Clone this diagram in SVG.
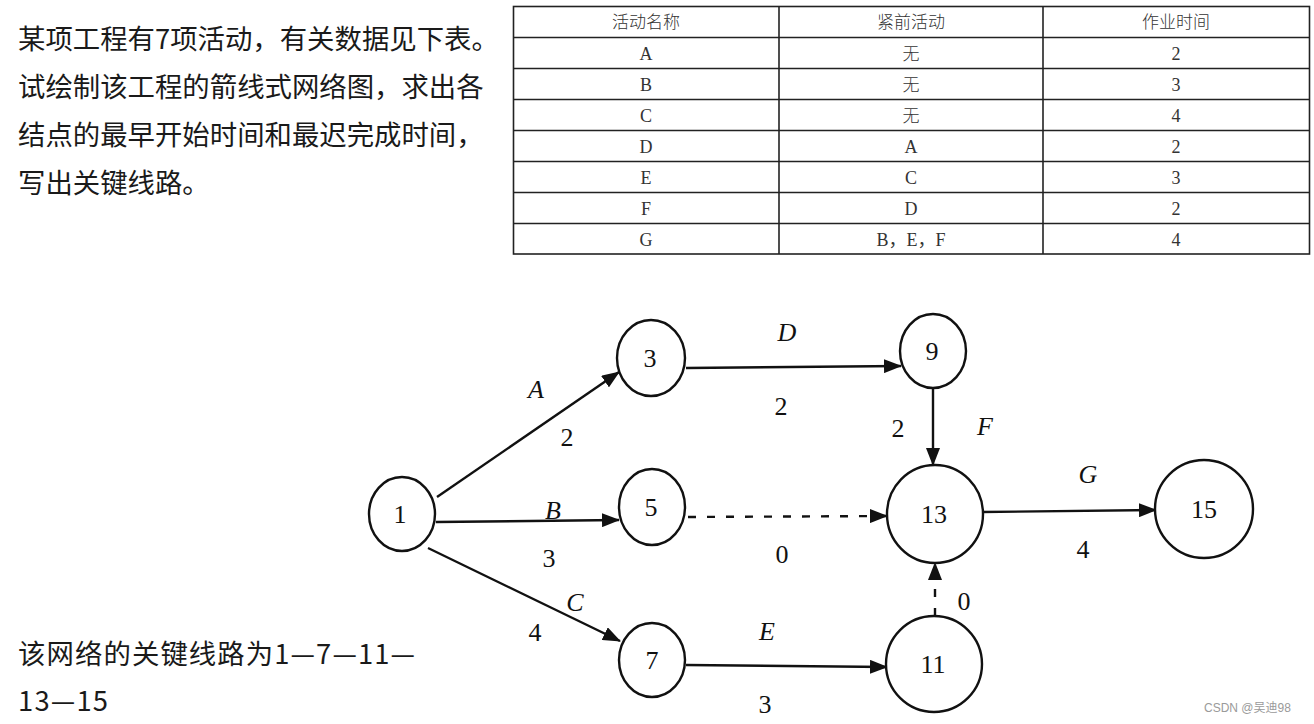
<svg xmlns="http://www.w3.org/2000/svg" width="1314" height="724" viewBox="0 0 1314 724">
<style>
.q{font-family:"Noto Sans CJK SC","Noto Sans",sans-serif;font-size:27.4px;fill:#1a1a1a}
.t{font-family:"Liberation Serif","Noto Sans CJK SC",serif;font-size:18px;fill:#333;text-anchor:middle}
.tc{font-family:"Noto Sans CJK SC",sans-serif;font-size:17px;fill:#333;text-anchor:middle;font-weight:300}
.grid{stroke:#222;stroke-width:1.6;fill:none}
.node{fill:#fff;stroke:#111;stroke-width:2.4}
.nl{font-family:"Liberation Serif",serif;font-size:26px;fill:#111;text-anchor:middle}
.el{font-family:"Liberation Serif",serif;font-size:26px;fill:#111;text-anchor:middle;font-style:italic}
.en{font-family:"Liberation Serif",serif;font-size:26px;fill:#111;text-anchor:middle}
.edge{stroke:#111;stroke-width:2.4;fill:none}
.dash{stroke:#111;stroke-width:2.4;fill:none;stroke-dasharray:8 11}
.wm{font-family:"Liberation Sans","Noto Sans CJK SC",sans-serif;font-size:12px;fill:#9a9a9a}
</style>
<defs>
<marker id="ah" markerUnits="userSpaceOnUse" markerWidth="18" markerHeight="14" refX="17" refY="7" orient="auto">
<path d="M0,0 L18,7 L0,14 z" fill="#111"/>
</marker>
</defs>
<rect width="1314" height="724" fill="#fff"/>

<g id="question">
<text class="q" x="18" y="49">某项工程有7项活动，有关数据见下表。</text>
<text class="q" x="18" y="97">试绘制该工程的箭线式网络图，求出各</text>
<text class="q" x="18" y="145">结点的最早开始时间和最迟完成时间，</text>
<text class="q" x="18" y="193">写出关键线路。</text>
</g>

<g id="table">
<rect x="513.5" y="6.5" width="796" height="247.5" class="grid" stroke-width="2.2"/>
<line class="grid" x1="779" y1="6.5" x2="779" y2="254"/>
<line class="grid" x1="1043" y1="6.5" x2="1043" y2="254"/>
<line class="grid" x1="513.5" y1="37.5" x2="1309.5" y2="37.5"/>
<line class="grid" x1="513.5" y1="68.5" x2="1309.5" y2="68.5"/>
<line class="grid" x1="513.5" y1="99.5" x2="1309.5" y2="99.5"/>
<line class="grid" x1="513.5" y1="130.5" x2="1309.5" y2="130.5"/>
<line class="grid" x1="513.5" y1="161.5" x2="1309.5" y2="161.5"/>
<line class="grid" x1="513.5" y1="192.5" x2="1309.5" y2="192.5"/>
<line class="grid" x1="513.5" y1="223.5" x2="1309.5" y2="223.5"/>
<text class="tc" x="646" y="28">活动名称</text>
<text class="tc" x="911" y="28">紧前活动</text>
<text class="tc" x="1176" y="28">作业时间</text>
<text class="t" x="646" y="60">A</text><text class="tc" x="911" y="60">无</text><text class="t" x="1176" y="60">2</text>
<text class="t" x="646" y="91">B</text><text class="tc" x="911" y="91">无</text><text class="t" x="1176" y="91">3</text>
<text class="t" x="646" y="122">C</text><text class="tc" x="911" y="122">无</text><text class="t" x="1176" y="122">4</text>
<text class="t" x="646" y="153">D</text><text class="t" x="911" y="153">A</text><text class="t" x="1176" y="153">2</text>
<text class="t" x="646" y="184">E</text><text class="t" x="911" y="184">C</text><text class="t" x="1176" y="184">3</text>
<text class="t" x="646" y="215">F</text><text class="t" x="911" y="215">D</text><text class="t" x="1176" y="215">2</text>
<text class="t" x="646" y="246">G</text><text class="t" x="911" y="246">B，E，F</text><text class="t" x="1176" y="246">4</text>
</g>

<g id="connectors">
<line class="edge" x1="437" y1="497" x2="619" y2="372" marker-end="url(#ah)"/>
<line class="edge" x1="436" y1="522" x2="619" y2="520" marker-end="url(#ah)"/>
<line class="edge" x1="428" y1="548" x2="620" y2="641" marker-end="url(#ah)"/>
<line class="edge" x1="686" y1="368" x2="901" y2="366" marker-end="url(#ah)"/>
<line class="dash" x1="688" y1="517" x2="887" y2="516" marker-end="url(#ah)"/>
<line class="edge" x1="933" y1="389" x2="933" y2="465" marker-end="url(#ah)"/>
<line class="edge" x1="982" y1="512" x2="1156" y2="510" marker-end="url(#ah)"/>
<line class="edge" x1="686" y1="665" x2="887" y2="667" marker-end="url(#ah)"/>
<line class="dash" x1="935" y1="616" x2="935" y2="563" stroke-dasharray="6 8" marker-end="url(#ah)"/>
<text class="el" x="536" y="398">A</text>
<text class="en" x="567" y="446">2</text>
<text class="el" x="553" y="519">B</text>
<text class="en" x="549" y="567">3</text>
<text class="el" x="575" y="611">C</text>
<text class="en" x="535" y="641">4</text>
<text class="el" x="787" y="341">D</text>
<text class="en" x="781" y="415">2</text>
<text class="en" x="898" y="437">2</text>
<text class="el" x="985" y="435">F</text>
<text class="en" x="782" y="563">0</text>
<text class="el" x="1088" y="483">G</text>
<text class="en" x="1083" y="558">4</text>
<text class="en" x="964" y="610">0</text>
<text class="el" x="767" y="640">E</text>
<text class="en" x="765" y="713">3</text>
</g>

<g id="node-1"><ellipse class="node" cx="402" cy="514" rx="33" ry="37"/><text class="nl" x="400" y="523">1</text></g>
<g id="node-3"><ellipse class="node" cx="651" cy="358" rx="34" ry="38"/><text class="nl" x="650" y="367">3</text></g>
<g id="node-5"><ellipse class="node" cx="652" cy="507" rx="33" ry="38"/><text class="nl" x="651" y="516">5</text></g>
<g id="node-7"><ellipse class="node" cx="652" cy="660" rx="33" ry="37"/><text class="nl" x="652" y="669">7</text></g>
<g id="node-9"><ellipse class="node" cx="933" cy="351" rx="33" ry="37"/><text class="nl" x="932" y="360">9</text></g>
<g id="node-13"><ellipse class="node" cx="935" cy="514" rx="48" ry="49"/><text class="nl" x="934" y="523">13</text></g>
<g id="node-15"><ellipse class="node" cx="1204" cy="509" rx="49" ry="49"/><text class="nl" x="1204" y="518">15</text></g>
<g id="node-11"><ellipse class="node" cx="934" cy="664" rx="48" ry="48"/><text class="nl" x="933" y="673">11</text></g>

<g id="answer">
<text class="q" x="18" y="664" textLength="397" lengthAdjust="spacing">该网络的关键线路为1—7—11—</text>
<text class="q" x="18" y="711" textLength="90" lengthAdjust="spacing">13—15</text>
</g>

<text class="wm" x="1204" y="712">CSDN @吴迪98</text>
</svg>
